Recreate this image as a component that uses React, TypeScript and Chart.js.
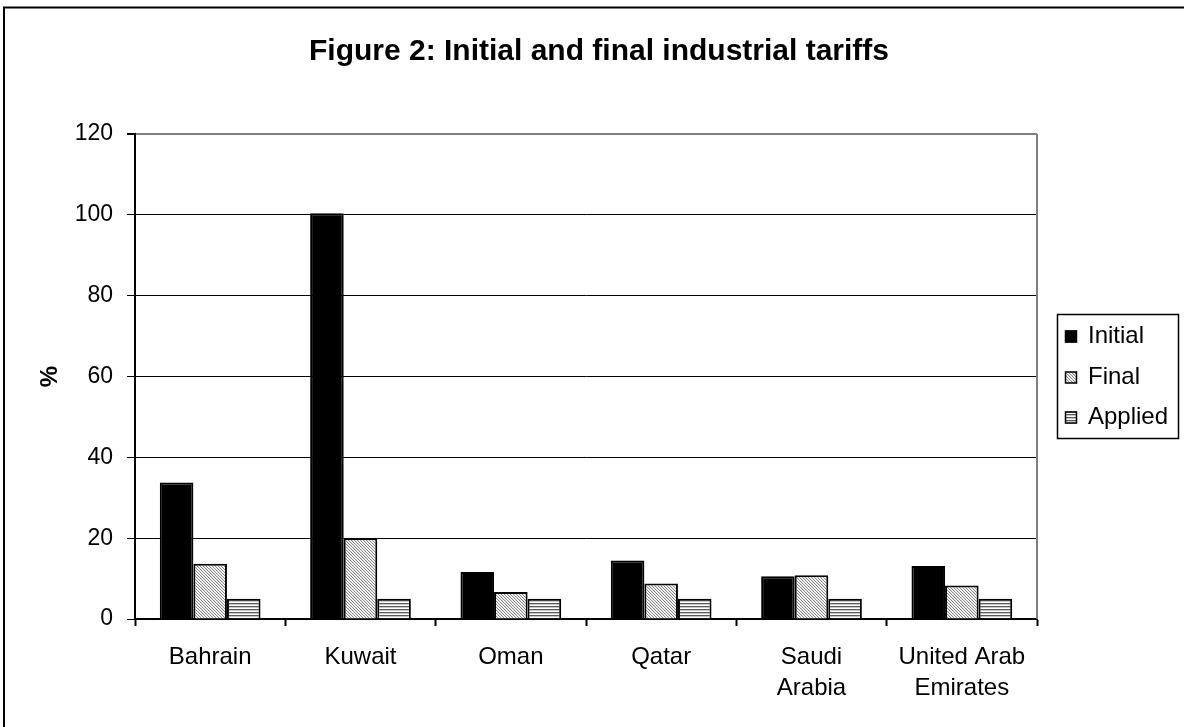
import React, { useEffect, useRef } from "react";
import { Chart, registerables } from "chart.js";

Chart.register(...registerables);

const FONT = "'Liberation Sans', Arial, Helvetica, sans-serif";

const titleText = "Figure 2: Initial and final industrial tariffs";
const yAxisTitle = "%";
const categories: (string | string[])[] = [
  "Bahrain",
  "Kuwait",
  "Oman",
  "Qatar",
  ["Saudi", "Arabia"],
  ["United Arab", "Emirates"],
];
const seriesNames = ["Initial", "Final", "Applied"];
const initialValues = [33.8, 100.4, 11.6, 14.5, 10.6, 13.1];
const finalValues = [13.7, 20.0, 6.7, 8.8, 10.8, 8.3];
const appliedValues = [5, 5, 5, 5, 5, 5];
const yTicks = [0, 20, 40, 60, 80, 100, 120];

function makeDiagonalPattern(): CanvasPattern | string {
  const c = document.createElement("canvas");
  c.width = 3;
  c.height = 3;
  const g = c.getContext("2d");
  if (!g) return "#ccc";
  g.fillStyle = "#ffffff";
  g.fillRect(0, 0, 3, 3);
  for (let i = 0; i < 3; i++) {
    g.fillStyle = "#8c8c8c";
    g.fillRect(i, i, 1, 1);
    g.fillStyle = "#e4e4e4";
    g.fillRect((i + 1) % 3, i, 1, 1);
  }
  return g.createPattern(c, "repeat") || "#ccc";
}

function makeHorizontalPattern(): CanvasPattern | string {
  const c = document.createElement("canvas");
  c.width = 1;
  c.height = 3;
  const g = c.getContext("2d");
  if (!g) return "#999";
  const rows = ["#5a5a5a", "#c8c8c8", "#ffffff"];
  rows.forEach((col, i) => {
    g.fillStyle = col;
    g.fillRect(0, i, 1, 1);
  });
  return g.createPattern(c, "repeat") || "#999";
}

export default function App() {
  const canvasRef = useRef<HTMLCanvasElement | null>(null);

  useEffect(() => {
    const canvas = canvasRef.current;
    if (!canvas) return;

    const finalPattern = makeDiagonalPattern();
    const appliedPattern = makeHorizontalPattern();

    const framePlugin = {
      id: "frameAndTitle",
      beforeDraw(chart: any) {
        const { ctx, width, height } = chart;
        ctx.save();
        ctx.fillStyle = "#ffffff";
        ctx.fillRect(0, 0, width, height);
        ctx.strokeStyle = "#000";
        ctx.lineWidth = 2;
        ctx.beginPath();
        ctx.moveTo(4, height + 2);
        ctx.lineTo(4, 7.5);
        ctx.lineTo(width + 2, 7.5);
        ctx.stroke();
        ctx.fillStyle = "#000";
        ctx.font = `bold 30px ${FONT}`;
        ctx.textAlign = "center";
        ctx.textBaseline = "middle";
        ctx.fillText(titleText, 599, 52);
        ctx.restore();
      },
      afterDatasetsDraw(chart: any) {
        const { ctx, chartArea } = chart;
        ctx.save();
        ctx.strokeStyle = "#808080";
        ctx.lineWidth = 2;
        ctx.beginPath();
        ctx.moveTo(chartArea.right, chartArea.top);
        ctx.lineTo(chartArea.right, chartArea.bottom);
        ctx.stroke();
        ctx.restore();
      },
      afterDraw(chart: any) {
        const { ctx } = chart;
        const ds = chart.data.datasets;
        ctx.save();
        const bx = 1057.5, by = 314.5, bw = 121, bh = 124;
        ctx.fillStyle = "#fff";
        ctx.fillRect(bx, by, bw, bh);
        ctx.strokeStyle = "#000";
        ctx.lineWidth = 1.5;
        ctx.strokeRect(bx, by, bw, bh);
        const centers = [336.5, 377.5, 417.5];
        ctx.font = `24px ${FONT}`;
        ctx.textAlign = "left";
        ctx.textBaseline = "middle";
        ds.forEach((d: any, i: number) => {
          const cy = centers[i];
          ctx.fillStyle = d.backgroundColor;
          ctx.fillRect(1065, cy - 6, 12, 12);
          ctx.strokeStyle = "#000";
          ctx.lineWidth = 1.5;
          ctx.strokeRect(1065.5, cy - 5.5, 11, 11);
          ctx.fillStyle = "#000";
          ctx.fillText(d.label, 1088, cy);
        });
        ctx.restore();
      },
    };

    const chart = new Chart(canvas, {
      type: "bar",
      data: {
        labels: categories as any,
        datasets: [
          {
            label: seriesNames[0],
            data: initialValues,
            backgroundColor: "#000000",
            borderColor: "#000000",
            borderWidth: 2,
          },
          {
            label: seriesNames[1],
            data: finalValues,
            backgroundColor: finalPattern as any,
            borderColor: "#000000",
            borderWidth: 2,
          },
          {
            label: seriesNames[2],
            data: appliedValues,
            backgroundColor: appliedPattern as any,
            borderColor: "#000000",
            borderWidth: 2,
          },
        ],
      },
      options: {
        responsive: false,
        animation: false,
        layout: { padding: { left: 0, top: 134, right: 147, bottom: 0 } },
        datasets: {
          bar: { barPercentage: 1, categoryPercentage: 0.67 },
        },
        plugins: {
          legend: { display: false },
          title: { display: false },
          tooltip: { enabled: false },
        },
        scales: {
          x: {
            type: "category",
            offset: true,
            grid: {
              offset: true,
              drawOnChartArea: false,
              tickLength: 7,
              tickColor: "#000",
              tickWidth: 2,
            },
            border: { color: "#000", width: 2 },
            ticks: {
              color: "#000",
              font: { family: FONT, size: 24, lineHeight: "31px" as any },
              padding: 16,
              maxRotation: 0,
              minRotation: 0,
              autoSkip: false,
            },
            afterFit: (s: any) => {
              s.height = 108;
            },
          },
          y: {
            min: 0,
            max: 120,
            afterBuildTicks: (s: any) => {
              s.ticks = yTicks.map((v) => ({ value: v }));
            },
            grid: {
              color: (c: any) => (c.tick && c.tick.value === 120 ? "#808080" : "#000"),
              lineWidth: (c: any) => (c.tick && c.tick.value === 120 ? 2 : 1),
              tickColor: "#000",
              tickLength: 8,
            },
            border: { color: "#000", width: 2 },
            ticks: {
              color: "#000",
              font: { family: FONT, size: 23 },
              padding: 14,
            },
            title: {
              display: true,
              text: yAxisTitle,
              color: "#000",
              font: { family: FONT, size: 24, weight: "bold" },
              padding: { top: 36, bottom: 0 },
            },
            afterFit: (s: any) => {
              s.width = 135;
            },
          },
        },
      },
      plugins: [framePlugin],
    });

    return () => chart.destroy();
  }, []);

  return (
    <div style={{ position: "absolute", left: 0, top: 0, width: 1184, height: 727 }}>
      <canvas ref={canvasRef} width={1184} height={727} style={{ width: 1184, height: 727, display: "block" }} />
    </div>
  );
}
